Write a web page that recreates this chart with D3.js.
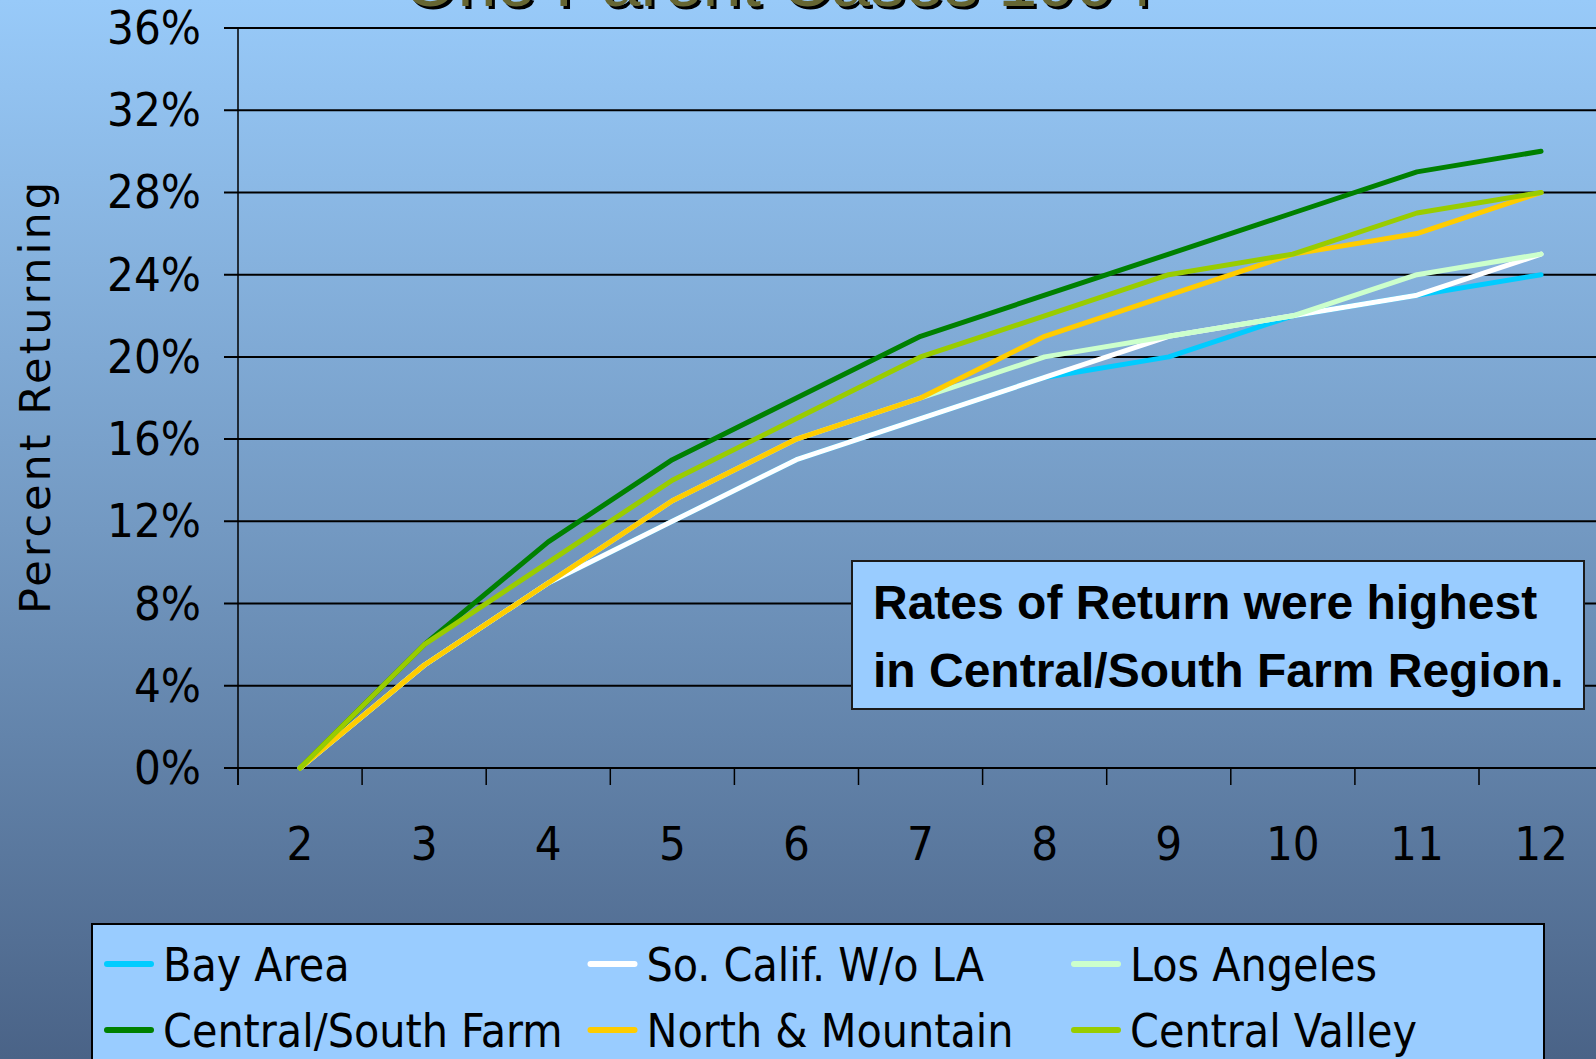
<!DOCTYPE html>
<html>
<head>
<meta charset="utf-8">
<script src="https://cdn.jsdelivr.net/npm/d3@7"></script>
<style>
  html, body { margin: 0; padding: 0; overflow: hidden; }
  svg { display: block; }
</style>
</head>
<body>
<svg id="chart" width="1596" height="1059"></svg>
<script>
// months since leaving aid (x categories)
let months = [2, 3, 4, 5, 6, 7, 8, 9, 10, 11, 12]
let yTicks = [0, 4, 8, 12, 16, 20, 24, 28, 32, 36]

let seriesNames = ['Bay Area', 'So. Calif. W/o LA', 'Los Angeles', 'Central/South Farm', 'North & Mountain', 'Central Valley']
let seriesColors = ['#00CCFF', '#FFFFFF', '#CCFFCC', '#008000', '#FFCC00', '#99CC00']

// percent returning
let bayArea = [0, 5, 9, 12, 15, 17, 19, 20, 22, 23, 24]
let soCalif = [0, 5, 9, 12, 15, 17, 19, 21, 22, 23, 25]
let losAngeles = [0, 5, 9, 13, 16, 18, 20, 21, 22, 24, 25]
let centralSouthFarm = [0, 6, 11, 15, 18, 21, 23, 25, 27, 29, 30]
let northMountain = [0, 5, 9, 13, 16, 18, 21, 23, 25, 26, 28]
let centralValley = [0, 6, 10, 14, 17, 20, 22, 24, 25, 27, 28]

let seriesValues = [bayArea, soCalif, losAngeles, centralSouthFarm, northMountain, centralValley]

let titleText = 'One Parent Cases 1994'
let noteLines = ['Rates of Return were highest', 'in Central/South Farm Region.']

let svg = d3.select('#chart')
let tickFont = "'DejaVu Sans Condensed', 'DejaVu Sans', sans-serif"

// background gradient
let defs = svg.append('defs')
let grad = defs.append('linearGradient')
    .attr('id', 'bg')
    .attr('x1', 0).attr('y1', 0).attr('x2', 0).attr('y2', 1)
grad.append('stop').attr('offset', '0%').attr('stop-color', '#98CAF9')
grad.append('stop').attr('offset', '50%').attr('stop-color', '#7399C2')
grad.append('stop').attr('offset', '100%').attr('stop-color', '#4A6387')

svg.append('rect')
    .attr('width', 1596).attr('height', 1059)
    .attr('fill', 'url(#bg)')

let plotLeft = 238
let bandW = 124.1
let x = d3.scaleBand()
    .domain(months)
    .range([plotLeft, plotLeft + bandW * months.length])
let y = d3.scaleLinear()
    .domain([0, 36])
    .range([768, 28])

// title, mostly cut off above the frame
let title = svg.append('g')
title.append('text')
    .attr('x', 406).attr('y', 9)
    .attr('font-family', "'Liberation Sans', Arial, sans-serif")
    .attr('font-size', '70px')
    .attr('fill', '#000')
    .text(titleText)
title.append('text')
    .attr('x', 403).attr('y', 6)
    .attr('font-family', "'Liberation Sans', Arial, sans-serif")
    .attr('font-size', '70px')
    .attr('fill', '#666633')
    .text(titleText)

// horizontal gridlines
svg.append('g')
    .selectAll('line')
    .data(yTicks)
    .join('line')
    .attr('x1', plotLeft - 14)
    .attr('x2', x.range()[1])
    .attr('y1', d => y(d))
    .attr('y2', d => y(d))
    .attr('stroke', '#000')
    .attr('stroke-width', 2)

// y axis line
svg.append('line')
    .attr('x1', plotLeft).attr('x2', plotLeft)
    .attr('y1', y(36)).attr('y2', y(0) + 17)
    .attr('stroke', '#000')
    .attr('stroke-width', 1.5)

// y tick labels
svg.append('g')
    .selectAll('text')
    .data(yTicks)
    .join('text')
    .attr('x', 201)
    .attr('y', d => y(d) + 16)
    .attr('text-anchor', 'end')
    .attr('font-family', tickFont)
    .attr('font-size', '47px')
    .attr('fill', '#000')
    .text(d => d + '%')

// x tick marks at band edges
svg.append('g')
    .selectAll('line')
    .data(months)
    .join('line')
    .attr('x1', d => x(d))
    .attr('x2', d => x(d))
    .attr('y1', y(0))
    .attr('y2', y(0) + 17)
    .attr('stroke', '#000')
    .attr('stroke-width', 1.5)

// x labels
svg.append('g')
    .selectAll('text')
    .data(months)
    .join('text')
    .attr('x', d => x(d) + x.bandwidth() / 2)
    .attr('y', 860)
    .attr('text-anchor', 'middle')
    .attr('font-family', tickFont)
    .attr('font-size', '47px')
    .attr('fill', '#000')
    .text(d => d)

// y axis title
svg.append('text')
    .attr('transform', 'translate(50,398) rotate(-90)')
    .attr('text-anchor', 'middle')
    .attr('font-family', "'DejaVu Sans', sans-serif")
    .attr('font-size', '43px')
    .attr('textLength', 432)
    .attr('lengthAdjust', 'spacing')
    .attr('fill', '#000')
    .text('Percent Returning')

// series lines
let line = d3.line()
    .x((d, i) => x(months[i]) + x.bandwidth() / 2)
    .y(d => y(d))

svg.append('g')
    .selectAll('path')
    .data(seriesValues)
    .join('path')
    .attr('d', d => line(d))
    .attr('fill', 'none')
    .attr('stroke', (d, i) => seriesColors[i])
    .attr('stroke-width', 5)
    .attr('stroke-linejoin', 'round')
    .attr('stroke-linecap', 'round')

// callout box
let note = svg.append('g')
note.append('rect')
    .attr('x', 852).attr('y', 561)
    .attr('width', 732).attr('height', 148)
    .attr('fill', '#99CCFF')
    .attr('stroke', '#1a1a1a')
    .attr('stroke-width', 2)
note.selectAll('text')
    .data(noteLines)
    .join('text')
    .attr('x', 873)
    .attr('y', (d, i) => 619 + i * 68)
    .attr('font-family', "'Liberation Sans', Arial, sans-serif")
    .attr('font-weight', 'bold')
    .attr('font-size', '48px')
    .attr('fill', '#000')
    .text(d => d)

// legend
let legend = svg.append('g')
legend.append('rect')
    .attr('x', 92).attr('y', 924)
    .attr('width', 1452).attr('height', 200)
    .attr('fill', '#99CCFF')
    .attr('stroke', '#000')
    .attr('stroke-width', 2)

let items = legend.selectAll('g.item')
    .data(seriesNames)
    .join('g')
    .attr('class', 'item')
    .attr('transform', (d, i) => 'translate(' + (105 + (i % 3) * 483.5) + ',' + (964 + Math.floor(i / 3) * 66) + ')')
items.append('line')
    .attr('x1', 2).attr('x2', 46)
    .attr('y1', 0).attr('y2', 0)
    .attr('stroke', (d, i) => seriesColors[i])
    .attr('stroke-width', 6)
    .attr('stroke-linecap', 'round')
items.append('text')
    .attr('x', 58)
    .attr('y', 17)
    .attr('font-family', tickFont)
    .attr('font-size', '46px')
    .attr('fill', '#000')
    .text(d => d)
</script>
</body>
</html>
